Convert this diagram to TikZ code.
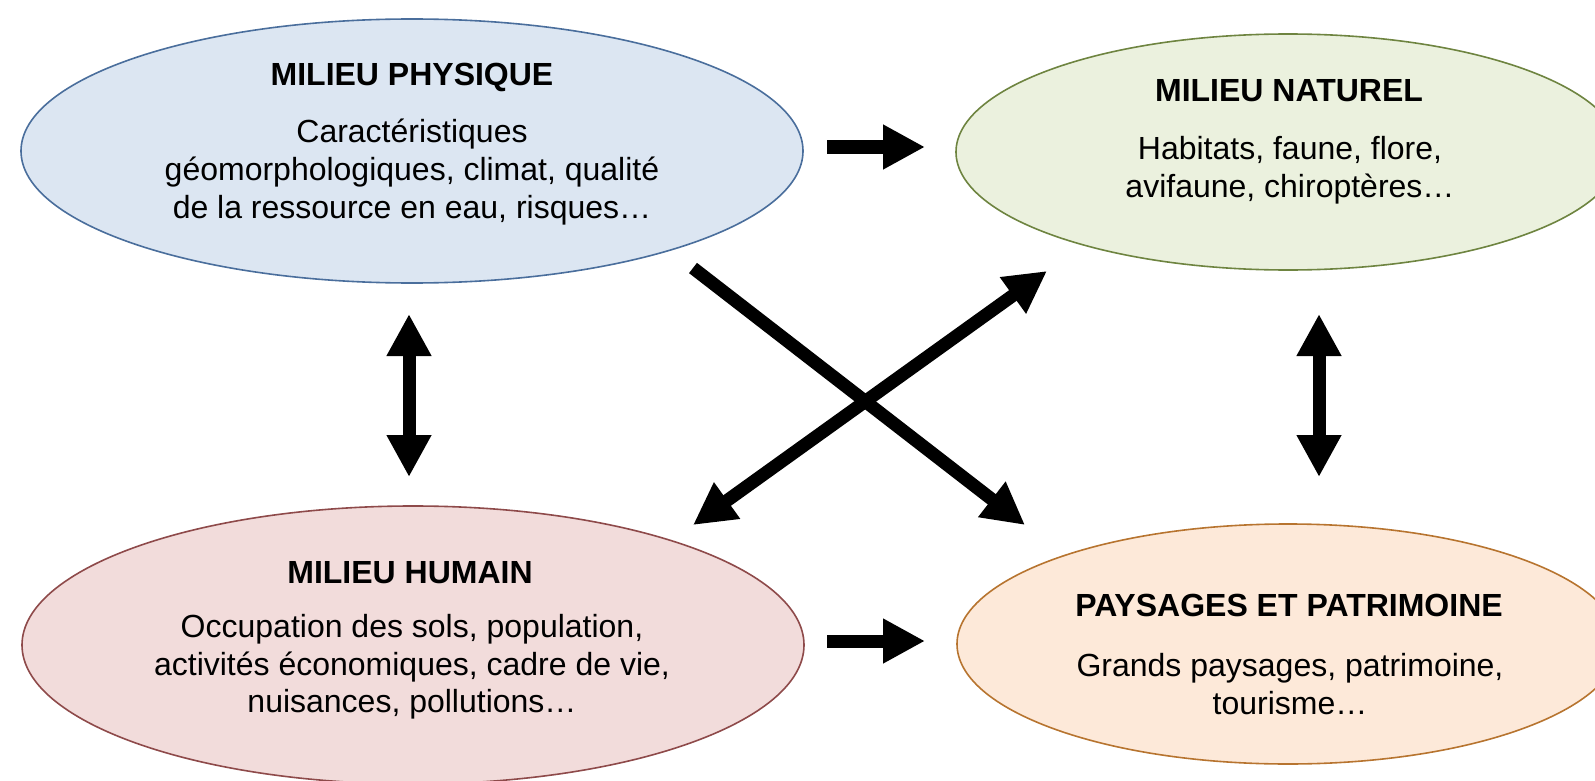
\documentclass[tikz,border=0pt]{standalone}
\usepackage{fontspec}
\setmainfont{Liberation Sans}
\usetikzlibrary{shapes.geometric,arrows.meta}

\definecolor{phyfill}{HTML}{DCE6F2}
\definecolor{phydraw}{HTML}{4A6E9C}
\definecolor{natfill}{HTML}{EBF1DE}
\definecolor{natdraw}{HTML}{6E8440}
\definecolor{humfill}{HTML}{F2DCDB}
\definecolor{humdraw}{HTML}{8E4A4A}
\definecolor{payfill}{HTML}{FDE9D9}
\definecolor{paydraw}{HTML}{B7742F}

\tikzset{
  milieu/.style={ellipse, draw, line width=0.8pt, inner sep=0pt},
  titre/.style={inner sep=0pt, font=\fontsize{16}{18.8}\selectfont\bfseries},
  texte/.style={inner sep=0pt, align=center, font=\fontsize{16}{18.8}\selectfont},
  fleche/.style={line width=6.5pt, -{Triangle[length=21pt,width=21pt]}},
  fleches/.style={line width=6.5pt, {Triangle[length=21pt,width=21pt]}-{Triangle[length=21pt,width=21pt]}}
}

\begin{document}
\begin{tikzpicture}[x=0.5pt,y=-0.5pt]
        \useasboundingbox (0,0) rectangle (1595,781);
        \clip (0,0) rectangle (1595,781);

        % les quatre milieux
        \node[milieu, fill=phyfill, draw=phydraw, minimum width=391pt, minimum height=132pt] (PH) at (412,151) {};
        \node[milieu, fill=natfill, draw=natdraw, minimum width=332pt, minimum height=118pt] (NA) at (1288,152) {};
        \node[milieu, fill=humfill, draw=humdraw, minimum width=391pt, minimum height=139pt] (HU) at (413,645) {};
        \node[milieu, fill=payfill, draw=paydraw, minimum width=331pt, minimum height=120pt] (PA) at (1288,644) {};

        \node[titre] (PHt) at (412,77) {MILIEU PHYSIQUE};
        \node[texte] (PHb) at (412,172) {Caractéristiques\\géomorphologiques, climat, qualité\\de la ressource en eau, risques\dots};
        \node[titre] (NAt) at (1289,91) {MILIEU NATUREL};
        \node[texte] (NAb) at (1290,170) {Habitats, faune, flore,\\avifaune, chiroptères\dots};
        \node[titre] (HUt) at (410,573) {MILIEU HUMAIN};
        \node[texte] (HUb) at (412,667) {Occupation des sols, population,\\activités économiques, cadre de vie,\\nuisances, pollutions\dots};
        \node[titre] (PAt) at (1289,605) {PAYSAGES ET PATRIMOINE};
        \node[texte] (PAb) at (1290,684) {Grands paysages, patrimoine,\\tourisme\dots};

        % bouts des fleches
        \coordinate (PN1) at (827,147);
        \coordinate (PN2) at (925,147);
        \coordinate (HP1) at (827,641);
        \coordinate (HP2) at (925,641);
        \coordinate (PH1) at (409,314);
        \coordinate (PH2) at (409,477);
        \coordinate (NP1) at (1319,314);
        \coordinate (NP2) at (1319,477);
        \coordinate (PP1) at (693,268);
        \coordinate (PP2) at (1025,525);
        \coordinate (HN1) at (693,525);
        \coordinate (HN2) at (1047,271);

        \path
        (PN1) edge[fleche] (PN2)
        (HP1) edge[fleche] (HP2)
        (PH1) edge[fleches] (PH2)
        (NP1) edge[fleches] (NP2)
        (PP1) edge[fleche] (PP2)
        (HN1) edge[fleches] (HN2);
\end{tikzpicture}
\end{document}
